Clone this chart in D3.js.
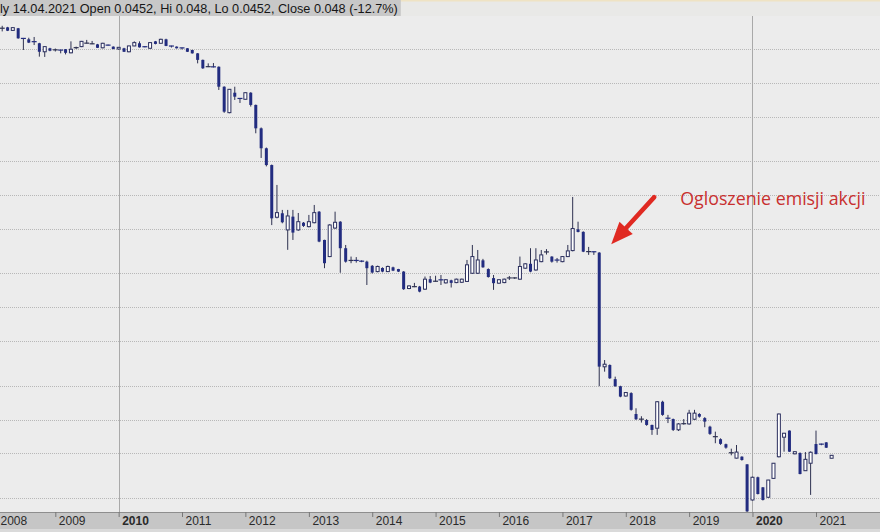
<!DOCTYPE html>
<html lang="pl">
<head>
    <meta charset="UTF-8">
    <title>Monthly chart</title>
    <script src="https://d3js.org/d3.v7.min.js"></script>
    <style>
        body {
            margin: 0;
            padding: 0;
            background: #ececec;
        }
        svg {
            display: block;
            font-family: "Liberation Sans", Arial, sans-serif;
        }
    </style>
</head>
<body>
    <svg width="880" height="532"></svg>

    <script>
        // monthly bars, Jan 2008 .. Apr 2021
        const open = [
            298, 305, 305, 312, 293, 306, 249, 244, 233, 225, 189, 203,
            196, 196, 199, 185, 204, 210, 225, 222, 220, 205, 217, 210,
            200, 203, 189, 213, 225, 210, 203, 234, 225, 244, 213, 210,
            205, 203, 196, 183, 160, 139, 139, 139, 92.3, 54.2, 81.6, 72.7,
            71.3, 81.6, 63.5, 39.3, 26.1, 18.5, 6.34, 6.88, 4.89, 6.42, 4.89, 5.67,
            5.23, 5.67, 7.11, 3.98, 2.83, 5.08, 5.79, 3.36, 2.6, 2.62, 2.58, 2.55,
            2.34, 2.08, 2.24, 2.08, 2.27, 2.19, 2.08, 1.47, 1.52, 1.53, 1.45, 1.78,
            1.70, 1.76, 1.65, 1.74, 1.66, 1.67, 1.70, 2.01, 2.01, 2.62, 2.19, 1.82,
            1.64, 1.66, 1.82, 1.81, 1.78, 2.23, 2.44, 2.15, 2.55, 3.10, 2.83, 2.64,
            2.55, 2.83, 3.2, 4.95, 4.7, 3.12, 3.13, 3.07, 0.295, 0.306, 0.229, 0.198,
            0.162, 0.172, 0.112, 0.1, 0.099, 0.0895, 0.0837, 0.144, 0.103, 0.101, 0.081, 0.091,
            0.0914, 0.1006, 0.112, 0.103, 0.0864, 0.070, 0.0668, 0.0603, 0.0505, 0.0453, 0.0467, 0.0399,
            0.0192, 0.0306, 0.0249, 0.0203, 0.0299, 0.0466, 0.0696, 0.0797, 0.0495, 0.0503, 0.035, 0.0408,
            0.0605, 0.0605, 0.0626, 0.0452
        ];
        const high = [
            318, 322, 322, 315, 312, 308, 251, 252, 256, 227, 211, 205,
            202, 197, 200, 234, 210, 236, 241, 236, 222, 227, 219, 211,
            208, 205, 214, 234, 234, 212, 230, 236, 247, 247, 214, 211,
            206, 204, 197, 184, 161, 149, 150, 140, 93, 88, 92.3, 73,
            82, 82.5, 64, 40, 26.5, 18.7, 12.3, 7.37, 7.37, 7.37, 6.92, 5.75,
            6.65, 8.16, 7.2, 4.0, 5.5, 7.11, 5.85, 3.59, 2.83, 2.8, 2.62, 2.6,
            2.38, 2.35, 2.27, 2.35, 2.3, 2.2, 2.1, 1.57, 1.65, 1.55, 1.88, 1.9,
            1.91, 1.94, 1.78, 1.76, 1.8, 1.8, 2.64, 3.59, 3.24, 2.7, 2.22, 1.94,
            1.78, 1.8, 1.9, 1.85, 2.83, 2.47, 3.36, 3.36, 3.24, 3.3, 2.85, 2.75,
            2.85, 3.59, 9.62, 5.79, 4.75, 3.45, 3.15, 3.1, 0.339, 0.31, 0.241, 0.2,
            0.176, 0.175, 0.126, 0.107, 0.101, 0.09, 0.146, 0.147, 0.11, 0.102, 0.093, 0.101,
            0.122, 0.122, 0.114, 0.105, 0.088, 0.078, 0.068, 0.061, 0.055, 0.0593, 0.047, 0.040,
            0.031, 0.031, 0.025, 0.029, 0.041, 0.113, 0.076, 0.08, 0.052, 0.051, 0.0513, 0.052,
            0.0797, 0.061, 0.063, 0.048
        ];
        const low = [
            290, 292, 287, 289, 291, 247, 196, 226, 217, 171, 170, 191,
            190, 183, 179, 183, 200, 208, 224, 221, 204, 203, 215, 199,
            198, 188, 187, 212, 206, 207, 202, 220, 224, 212, 206, 202,
            198, 188, 182, 149, 133, 138, 137, 86.3, 54, 53.5, 70.3, 66.1,
            71, 61.4, 35.5, 21.4, 18, 5.4, 6.2, 5.6, 3.25, 3.98, 4.8, 5.2,
            5.15, 5.6, 3.8, 2.23, 2.8, 5.0, 2.03, 2.5, 2.47, 2.5, 2.52, 1.58,
            2.0, 2.05, 2.05, 2.06, 2.1, 2.06, 1.43, 1.45, 1.51, 1.36, 1.43, 1.64,
            1.69, 1.58, 1.63, 1.50, 1.64, 1.65, 1.68, 1.98, 1.98, 2.25, 1.84, 1.43,
            1.62, 1.64, 1.75, 1.79, 1.76, 2.2, 2.05, 2.12, 2.52, 2.95, 2.5, 2.5,
            2.52, 2.8, 3.15, 4.65, 3.1, 2.93, 2.93, 0.198, 0.267, 0.23, 0.196, 0.158,
            0.160, 0.12, 0.099, 0.094, 0.088, 0.073, 0.073, 0.108, 0.093, 0.079, 0.079, 0.09,
            0.09, 0.099, 0.104, 0.0854, 0.073, 0.0615, 0.0595, 0.055, 0.048, 0.045, 0.043, 0.0150,
            0.019, 0.0215, 0.019, 0.020, 0.0297, 0.046, 0.0517, 0.0515, 0.049, 0.0325, 0.0348, 0.0213,
            0.049, 0.059, 0.0558, 0.0452
        ];
        const close = [
            305, 306, 307, 291, 310, 249, 248, 228, 232, 189, 210, 193,
            197, 195, 185, 199, 206, 234, 226, 223, 205, 225, 216, 200,
            207, 189, 213, 228, 207, 209, 228, 222, 244, 213, 207, 203,
            199, 189, 183, 160, 134.6, 139.5, 138, 92.3, 55.3, 87.5, 75.2, 72.2,
            81.6, 63.5, 39.3, 26.1, 18.5, 6.2, 6.97, 5.72, 6.51, 4.63, 5.79, 5.31,
            5.79, 6.97, 3.85, 2.47, 5.41, 5.72, 3.36, 2.55, 2.62, 2.6, 2.56, 2.23,
            2.04, 2.31, 2.08, 2.31, 2.12, 2.08, 1.45, 1.55, 1.53, 1.38, 1.78, 1.66,
            1.71, 1.75, 1.76, 1.65, 1.78, 1.78, 2.39, 2.83, 2.64, 2.27, 1.86, 1.64,
            1.76, 1.78, 1.83, 1.83, 2.31, 2.44, 2.08, 2.64, 2.93, 3.12, 2.55, 2.62,
            2.83, 3.18, 5.03, 4.69, 3.13, 3.14, 3.11, 0.296, 0.311, 0.233, 0.198, 0.160,
            0.174, 0.122, 0.1006, 0.101, 0.0895, 0.0808, 0.144, 0.110, 0.102, 0.0808, 0.0914, 0.092,
            0.114, 0.114, 0.106, 0.0958, 0.0745, 0.0705, 0.0607, 0.0562, 0.0507, 0.0513, 0.0436, 0.0152,
            0.0306, 0.0217, 0.0192, 0.0289, 0.0408, 0.112, 0.0755, 0.0517, 0.0517, 0.0327, 0.0442, 0.0511,
            0.0492, 0.060, 0.0561, 0.048
        ];

        const gridValues = [0.02, 0.05, 0.1, 0.2, 0.5, 1, 2, 5, 10, 20, 50, 100, 200];
        const boldYears = [2010, 2020];
        const headerText = "ly 14.04.2021 Open 0.0452, Hi 0.048, Lo 0.0452, Close 0.048 (-12.7%)";
        const noteText = "Ogloszenie emisji akcji";
        const noteMonth = new Date(2017, 7, 1);

        const width = 880;
        const height = 532;
        const plotTop = 16;
        const plotBottom = 512;

        const months = d3.timeMonth.range(new Date(2008, 0, 1), new Date(2021, 4, 1));
        const bars = months.map((d, i) => ({
            date: d, open: open[i], high: high[i], low: low[i], close: close[i]
        }));

        const x = d3.scaleTime()
            .domain([new Date(2008, 0, 1), new Date(2021, 0, 1)])
            .range([-8.2, 816]);

        const y = d3.scaleLog()
            .domain([0.015004, 401.8])
            .range([plotBottom, 15]);

        const svg = d3.select("svg");

        svg.append("rect")
            .attr("width", width).attr("height", height)
            .attr("fill", "#ececec");

        svg.append("defs").append("clipPath").attr("id", "plot")
            .append("rect")
            .attr("x", 0).attr("y", plotTop)
            .attr("width", width).attr("height", plotBottom - plotTop);

        // horizontal dotted grid
        svg.append("g")
            .selectAll("line")
            .data(gridValues)
            .join("line")
            .attr("x1", 0).attr("x2", width)
            .attr("y1", d => Math.round(y(d)) + 0.5)
            .attr("y2", d => Math.round(y(d)) + 0.5)
            .attr("stroke", "#b8b8b8")
            .attr("stroke-dasharray", "1,1");

        // decade separators
        svg.append("g")
            .selectAll("line")
            .data(boldYears)
            .join("line")
            .attr("x1", d => Math.round(x(new Date(d, 0, 1))) + 0.5)
            .attr("x2", d => Math.round(x(new Date(d, 0, 1))) + 0.5)
            .attr("y1", plotTop).attr("y2", plotBottom)
            .attr("stroke", "#a9a9a9");

        // candles
        const navy = "#222c80";
        const wickColor = "#2e3150";
        const candles = svg.append("g").attr("clip-path", "url(#plot)")
            .selectAll("g")
            .data(bars)
            .join("g");

        candles.append("line")
            .attr("x1", d => x(d.date)).attr("x2", d => x(d.date))
            .attr("y1", d => y(d.high)).attr("y2", d => y(d.low))
            .attr("stroke", wickColor)
            .attr("stroke-width", 1);

        candles.each(function(d) {
            const g = d3.select(this);
            const top = y(Math.max(d.open, d.close));
            const bot = y(Math.min(d.open, d.close));
            const cx = x(d.date);
            if (bot - top < 1.5) {
                g.append("rect")
                    .attr("x", cx - 2.5).attr("y", top - 0.5)
                    .attr("width", 5).attr("height", 1.2)
                    .attr("fill", d.close < d.open ? navy : wickColor);
            } else if (d.close < d.open) {
                g.append("rect")
                    .attr("x", cx - 1.5).attr("y", top)
                    .attr("width", 3).attr("height", bot - top)
                    .attr("fill", navy);
            } else {
                g.append("rect")
                    .attr("x", cx - 1.5).attr("y", top)
                    .attr("width", 3).attr("height", bot - top)
                    .attr("fill", "#fff")
                    .attr("stroke", "#2b2f5e")
                    .attr("stroke-width", 1);
            }
        });

        // annotation
        const noteBar = bars.find(d => +d.date === +noteMonth);
        const tipX = x(noteBar.date) + 12;
        const tipY = y(noteBar.high) - 8;
        const tailX = tipX + 43;
        const tailY = tipY - 47;
        const ang = Math.atan2(tipY - tailY, tipX - tailX);
        const headLen = 22, headHalf = 9;
        const bx = tipX - headLen * Math.cos(ang);
        const by = tipY - headLen * Math.sin(ang);
        const px = -Math.sin(ang), py = Math.cos(ang);

        svg.append("line")
            .attr("x1", tailX).attr("y1", tailY)
            .attr("x2", bx).attr("y2", by)
            .attr("stroke", "#e02a22")
            .attr("stroke-width", 4.5)
            .attr("stroke-linecap", "round");

        svg.append("path")
            .attr("d", `M${tipX},${tipY}L${bx + px * headHalf},${by + py * headHalf}L${bx - px * headHalf},${by - py * headHalf}Z`)
            .attr("fill", "#e02a22");

        svg.append("text")
            .attr("x", tailX + 26).attr("y", tailY + 7.5)
            .attr("font-family", "'Open Sans', sans-serif")
            .attr("font-size", 17.8)
            .attr("fill", "#c8302f")
            .text(noteText);

        // header strip
        svg.append("rect")
            .attr("width", width).attr("height", plotTop)
            .attr("fill", "#e9e9e7");
        svg.append("rect")
            .attr("width", width).attr("height", 1.5)
            .attr("fill", "#efe3c4");
        const headerBg = svg.append("rect")
            .attr("y", 0).attr("height", plotTop)
            .attr("fill", "#c8c8c8");
        const header = svg.append("text")
            .attr("x", 0).attr("y", 12.5)
            .attr("font-size", 12.7)
            .attr("fill", "#161616")
            .text(headerText);
        headerBg.attr("width", header.node().getComputedTextLength() + 3);

        // time axis bar
        svg.append("rect")
            .attr("x", 0).attr("y", plotBottom)
            .attr("width", width).attr("height", height - plotBottom)
            .attr("fill", "#c6c6c6");
        svg.append("line")
            .attr("x1", 0).attr("x2", width)
            .attr("y1", plotBottom + 0.5).attr("y2", plotBottom + 0.5)
            .attr("stroke", "#8e8e8e");
        svg.append("rect")
            .attr("x", 0).attr("y", 529)
            .attr("width", width).attr("height", 3)
            .attr("fill", "#dadada");

        const axis = d3.axisBottom(x)
            .ticks(d3.timeYear.every(1))
            .tickSize(5)
            .tickFormat(d3.timeFormat("%Y"));

        const ax = svg.append("g")
            .attr("transform", `translate(0,${plotBottom})`)
            .call(axis);
        ax.select(".domain").remove();
        ax.selectAll(".tick line").attr("stroke", "#777");
        // keep the first year label inside the left edge
        ax.selectAll(".tick text")
            .attr("x", d => Math.max(3, -x(d)))
            .attr("y", 4)
            .attr("text-anchor", "start")
            .attr("fill", "#2a2a2a")
            .attr("font-size", 12)
            .attr("font-family", "'Liberation Sans', Arial, sans-serif")
            .attr("font-weight", d => boldYears.includes(d.getFullYear()) ? "bold" : "normal");
    </script>
</body>
</html>
